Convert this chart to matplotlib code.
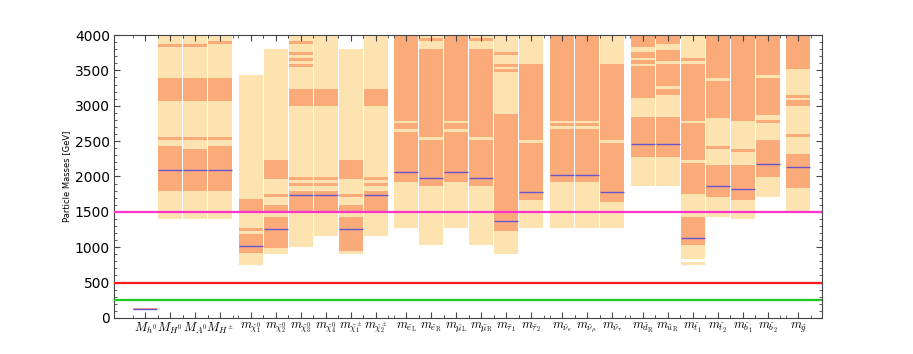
import matplotlib
matplotlib.use('Agg')
import matplotlib.pyplot as plt
from matplotlib.ticker import AutoMinorLocator, FixedLocator
import numpy as np

plt.rcParams['mathtext.fontset'] = 'cm'

labels = [r'$M_{h^0}$', r'$M_{H^0}$', r'$M_{A^0}$', r'$M_{H^\pm}$',
          r'$m_{\tilde{\chi}^0_1}$', r'$m_{\tilde{\chi}^0_2}$', r'$m_{\tilde{\chi}^0_3}$',
          r'$m_{\tilde{\chi}^0_4}$', r'$m_{\tilde{\chi}^\pm_1}$', r'$m_{\tilde{\chi}^\pm_2}$',
          r'$m_{\tilde{e}_\mathrm{L}}$', r'$m_{\tilde{e}_\mathrm{R}}$',
          r'$m_{\tilde{\mu}_\mathrm{L}}$', r'$m_{\tilde{\mu}_\mathrm{R}}$',
          r'$m_{\tilde{\tau}_1}$', r'$m_{\tilde{\tau}_2}$',
          r'$m_{\tilde{\nu}_e}$', r'$m_{\tilde{\nu}_\mu}$', r'$m_{\tilde{\nu}_\tau}$',
          r'$m_{\tilde{d}_\mathrm{R}}$', r'$m_{\tilde{u}_\mathrm{R}}$',
          r'$m_{\tilde{t}_1}$', r'$m_{\tilde{t}_2}$', r'$m_{\tilde{b}_1}$', r'$m_{\tilde{b}_2}$',
          r'$m_{\tilde{g}}$']

# group index of each particle (a small gap is left between groups)
groups = [0, 0, 0, 0, 1, 1, 1, 1, 1, 1, 2, 2, 2, 2, 2, 2, 3, 3, 3, 4, 4, 4, 4, 4, 4, 5]

# 95% ranges (light)
light = [
    [(117, 146)],
    [(1395, 4000)], [(1395, 4000)], [(1395, 4000)],
    [(749, 3435)], [(910, 3802)], [(999, 4000)], [(1159, 4000)], [(910, 3802)], [(1155, 4000)],
    [(1277, 4000)], [(1032, 4000)], [(1277, 4000)], [(1032, 4000)], [(910, 4000)], [(1277, 4000)],
    [(1277, 4000)], [(1277, 4000)], [(1277, 4000)],
    [(1871, 4000)], [(1871, 4000)], [(834, 4000), (749, 797)], [(1428, 4000)], [(1395, 4000)], [(1713, 4000)],
    [(1513, 4000)],
]

# 68% ranges (dark)
dark = [
    [(122, 142)],
    [(3835, 3878), (3072, 3397), (2516, 2558), (1795, 2436)],
    [(3835, 3878), (3072, 3397), (2516, 2558), (1795, 2389)],
    [(3878, 3920), (3072, 3397), (2516, 2558), (1795, 2436)],
    [(1480, 1677), (1230, 1277), (914, 1187)],
    [(1960, 2233), (1715, 1757), (1503, 1593), (994, 1432)],
    [(3878, 3920), (3722, 3764), (3637, 3680), (3552, 3595), (2997, 3237), (1950, 1993), (1870, 1913), (1503, 1800)],
    [(2997, 3237), (1950, 1993), (1870, 1913), (1503, 1800)],
    [(1960, 2233), (1715, 1757), (1503, 1593), (947, 1432)],
    [(2997, 3237), (1950, 1993), (1870, 1913), (1480, 1800)],
    [(2789, 4000), (2672, 2761), (1918, 2634)],
    [(3915, 3962), (2554, 3802), (1871, 2516)],
    [(2789, 4000), (2672, 2761), (1918, 2634)],
    [(3915, 3962), (2554, 3802), (1871, 2516)],
    [(3717, 3764), (3552, 3595), (3477, 3519), (1230, 2879)],
    [(2516, 3595), (1673, 2478)],
    [(2789, 4000), (2714, 2761), (1918, 2676)],
    [(2789, 4000), (2714, 2761), (1918, 2676)],
    [(2516, 3595), (1635, 2478)],
    [(3830, 4000), (3670, 3755), (3595, 3642), (3114, 3557), (2271, 2836)],
    [(3873, 4000), (3633, 3793), (3275, 3595), (3152, 3237), (2271, 2836)],
    [(3637, 3680), (2789, 3595), (2233, 2761), (1757, 2196), (1032, 1432)],
    [(3392, 4000), (2832, 3355), (2389, 2431), (1715, 2158)],
    [(2789, 4000), (2351, 2394), (1672, 2158)],
    [(3430, 4000), (2874, 3392), (2756, 2794), (1997, 2511)],
    [(3515, 4000), (3114, 3157), (2992, 3077), (2554, 2601), (1833, 2313)],
]

medians = [132, 2097, 2097, 2097, 1013, 1253, 1734, 1734, 1253, 1734,
           2059, 1974, 2059, 1974, 1376, 1776, 2017, 2017, 1776,
           2459, 2459, 1135, 1860, 1816, 2171, 2134]

GAP = 0.23
xpos = np.arange(len(labels)) + GAP * np.array(groups)

fig = plt.figure(figsize=(9.13, 3.54), dpi=100)
ax = fig.add_axes([0.125, 0.102, 0.775, 0.799])

w = 0.96
for x, lt, dk, m in zip(xpos, light, dark, medians):
    for lo, hi in lt:
        ax.bar(x, hi - lo, bottom=lo, width=w, color='#fde3b0', linewidth=0)
    for lo, hi in dk:
        ax.bar(x, hi - lo, bottom=lo, width=w, color='#fbab7a', linewidth=0)
    ax.hlines(m, x - w / 2, x + w / 2, color='#6655cc', lw=1.0, zorder=3)

ax.axhline(1500, color='#ff33cc', lw=1.6, zorder=4)
ax.axhline(500, color='#ff1a1a', lw=1.6, zorder=4)
ax.axhline(250, color='#1ec81e', lw=1.6, zorder=4)

ax.set_ylim(0, 4000)
ax.set_xlim(xpos[0] - 1.24, xpos[-1] + 0.93)
ax.set_xticks(xpos)
ax.set_xticklabels(labels, fontsize=9)
ax.xaxis.set_minor_locator(FixedLocator(np.concatenate([xpos - 0.5, xpos + 0.5])))
ax.yaxis.set_minor_locator(AutoMinorLocator(5))
ax.tick_params(axis='both', which='both', direction='in', top=True, right=True, color='#444444')
ax.tick_params(axis='both', which='major', length=4)
ax.tick_params(axis='both', which='minor', length=2)
ax.tick_params(axis='y', labelsize=10, pad=3)
ax.tick_params(axis='x', pad=2)
for s in ax.spines.values():
    s.set_color('#444444')
    s.set_linewidth(0.8)
ax.set_ylabel('Particle Masses [GeV]', fontsize=6, labelpad=3)

plt.savefig('out.png', dpi=100)
